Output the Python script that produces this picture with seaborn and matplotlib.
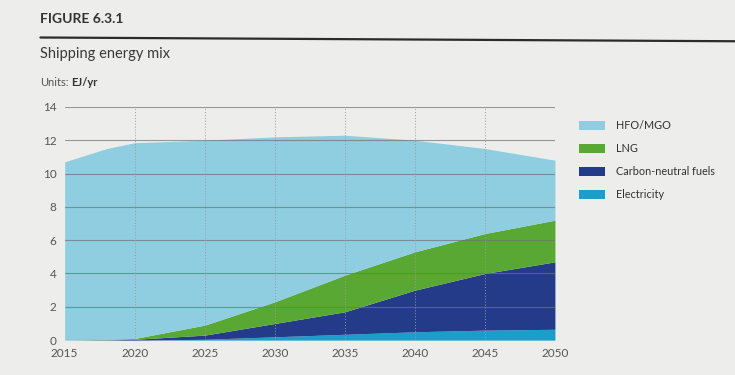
"""Shipping energy mix (Figure 6.3.1) as a stacked area chart."""

import matplotlib.pyplot as plt
import pandas as pd
import seaborn as sns
from matplotlib.lines import Line2D
from matplotlib.patches import Patch

years = [2015, 2018, 2020, 2025, 2030, 2035, 2040, 2045, 2050]
electricity = [0.0, 0.0, 0.0, 0.05, 0.2, 0.35, 0.5, 0.6, 0.65]
carbon_neutral = [0.0, 0.02, 0.05, 0.25, 0.8, 1.35, 2.5, 3.4, 4.05]
lng = [0.0, 0.03, 0.05, 0.6, 1.3, 2.2, 2.3, 2.4, 2.5]
hfo_mgo = [10.7, 11.45, 11.75, 11.1, 9.9, 8.4, 6.7, 5.1, 3.6]

series_names = ["Electricity", "Carbon-neutral fuels", "LNG", "HFO/MGO"]
colors = ["#1a9fcb", "#243b8a", "#5aa834", "#8fcde0"]
x_ticks = [2015, 2020, 2025, 2030, 2035, 2040, 2045, 2050]
y_ticks = [0, 2, 4, 6, 8, 10, 12, 14]

df = pd.DataFrame(
    {
        "year": years,
        "Electricity": electricity,
        "Carbon-neutral fuels": carbon_neutral,
        "LNG": lng,
        "HFO/MGO": hfo_mgo,
    }
)

sns.set_style("white")
plt.rcParams["font.family"] = ["Lato", "DejaVu Sans"]
bg = "#ededeb"

fig = plt.figure(figsize=(7.35, 3.75), dpi=100, facecolor=bg)
ax = fig.add_axes([0.088, 0.093, 0.667, 0.622], facecolor=bg)

ax.stackplot(df["year"], *[df[name] for name in series_names], colors=colors, linewidth=0, zorder=1)

ax.set_xlim(2015, 2050)
ax.set_ylim(0, 14)
ax.set_xticks(x_ticks)
ax.set_yticks(y_ticks)
for y in y_ticks:
    ax.axhline(y, color="#6f7376", lw=0.8, alpha=0.7, zorder=2)
for x in x_ticks[1:]:
    ax.axvline(x, color="#9a9a9a", lw=0.7, ls=(0, (1, 2)), zorder=2)
ax.tick_params(axis="both", colors="#555555", labelsize=8.5, length=0, pad=6)
for side in ["top", "right", "left", "bottom"]:
    ax.spines[side].set_visible(False)
ax.set_xlabel("")
ax.set_ylabel("")

# header
fig.text(0.055, 0.95, "FIGURE 6.3.1", fontsize=10, fontweight="bold", color="#333333", va="center")
fig.add_artist(Line2D([0.055, 1.0], [0.9, 0.89], color="#2b2b2b", lw=1.6, transform=fig.transFigure))
fig.text(0.055, 0.855, "Shipping energy mix", fontsize=10.5, color="#3a3a3a", va="center")
fig.text(0.055, 0.78, "Units:", fontsize=8, color="#555555", va="center")
fig.text(0.097, 0.78, "EJ/yr", fontsize=8, fontweight="bold", color="#333333", va="center")

handles = [Patch(facecolor=c, edgecolor="none") for c in reversed(colors)]
labels = list(reversed(series_names))
fig.legend(
    handles,
    labels,
    loc="upper left",
    bbox_to_anchor=(0.775, 0.705),
    frameon=False,
    fontsize=7.8,
    handlelength=2.4,
    handleheight=0.9,
    labelspacing=1.1,
    handletextpad=1.0,
    labelcolor="#333333",
)

fig.savefig("out.png", dpi=100, facecolor=bg)
